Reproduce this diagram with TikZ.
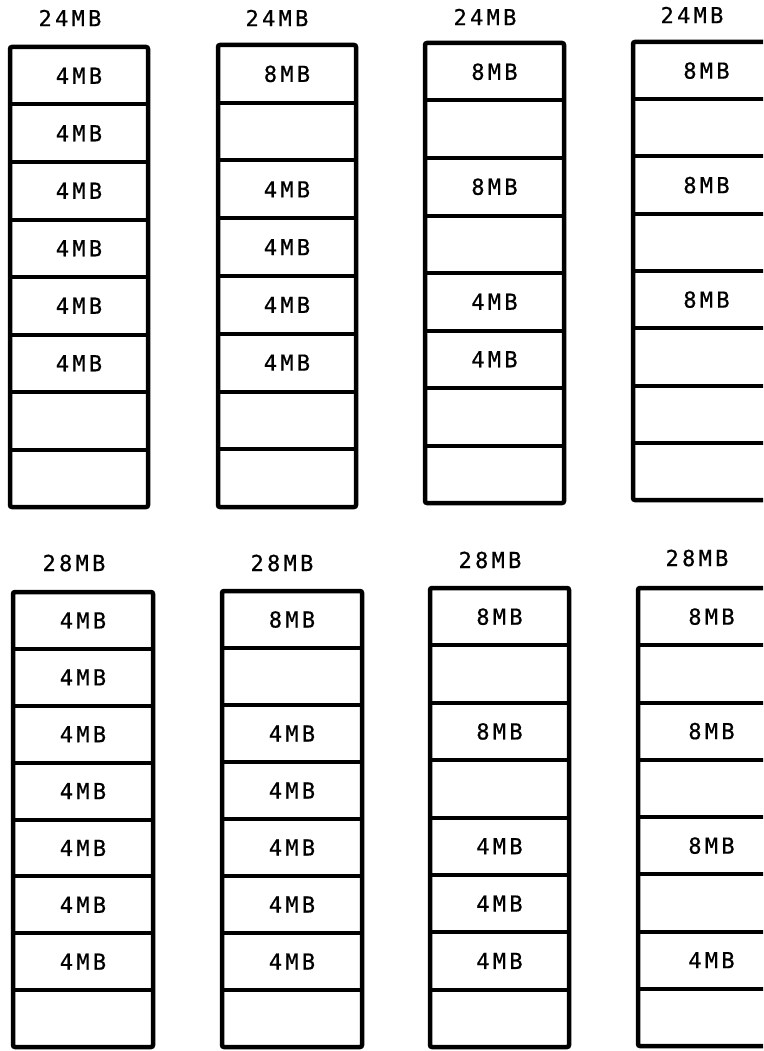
\documentclass[tikz,border=0pt]{standalone}
\usepackage{fontspec}
\newfontfamily\monofont[LetterSpace=15,FakeBold=0.6]{DejaVu Sans Mono}
\begin{document}
\begin{tikzpicture}[x=1pt,y=-1pt,
  cell/.style={inner sep=0pt, outer sep=0pt, font=\monofont\fontsize{22}{24}\selectfont},
  frame/.style={draw=black, line width=4.5pt, rounded corners=2pt},
  divider/.style={draw=black, line width=4pt},
  title/.style={inner sep=0pt, font=\monofont\fontsize{22}{24}\selectfont}]
\useasboundingbox (0,0) rectangle (763,1051);
\clip (0,0) rectangle (763,1051);
\def\e{}
\foreach \n/\L/\R/\T/\B/\lx/\ly/\lab/\cells in {
  a/10/148/47/507/70/18/24MB/{4MB,4MB,4MB,4MB,4MB,4MB,\e,\e},
  b/218/356/45/507/277/18/24MB/{8MB,\e,4MB,4MB,4MB,4MB,\e,\e},
  c/425/564/43/503/485/17/24MB/{8MB,\e,8MB,\e,4MB,4MB,\e,\e},
  d/633/780/42/500/692/15/24MB/{8MB,\e,8MB,\e,8MB,\e,\e,\e},
  e/13/153/592/1047/74/563/28MB/{4MB,4MB,4MB,4MB,4MB,4MB,4MB,\e},
  f/222/362/591/1047/282/563/28MB/{8MB,\e,4MB,4MB,4MB,4MB,4MB,\e},
  g/430/569/588/1047/490/560/28MB/{8MB,\e,8MB,\e,4MB,4MB,4MB,\e},
  h/638/785/588/1046/697/558/28MB/{8MB,\e,8MB,\e,8MB,\e,4MB,\e}}
{
  \pgfmathsetmacro\w{\R-\L}
  \pgfmathsetmacro\h{(\B-\T)/8}
  \pgfmathsetmacro\cx{(\L+\R)/2}
  \node[title] (t\n) at (\lx,\ly) {\lab};
  \foreach \c [count=\i] in \cells {
    \pgfmathsetmacro\cy{\T+(\i-0.5)*\h}
    \node[cell, minimum width=\w pt, minimum height=\h pt] (\n\i) at (\cx,\cy) {\c};
  }
  \foreach \i in {1,...,7} {
    \draw[divider] (\n\i.south west) -- (\n\i.south east);
  }
  \draw[frame] (\n1.north west) rectangle (\n8.south east);
}
\end{tikzpicture}
\end{document}
